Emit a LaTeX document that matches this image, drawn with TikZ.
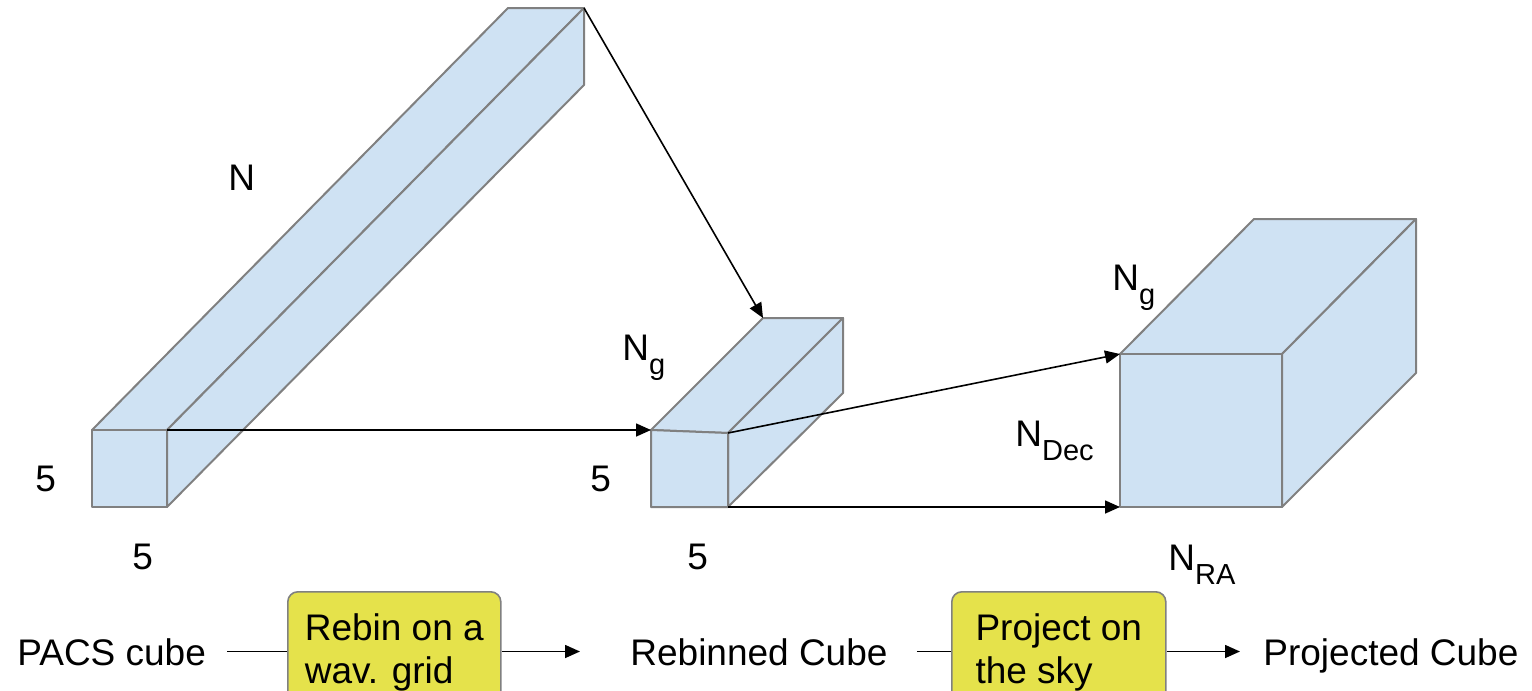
\documentclass[tikz,border=0pt]{standalone}
\usepackage{fontspec}
\setmainfont{Liberation Sans}
\usetikzlibrary{arrows.meta}
\definecolor{cubefill}{RGB}{207,226,243}
\definecolor{edgegray}{RGB}{128,128,128}
\definecolor{boxyellow}{RGB}{229,226,75}
\newcommand{\lowsub}[1]{\raisebox{-7pt}{\fontsize{14.5}{16}\selectfont #1}}
\begin{document}
\begin{tikzpicture}[x=0.5pt,y=-0.5pt,
  face/.style={fill=cubefill,draw=edgegray,line width=1pt,line join=round},
  conn/.style={draw=black,line width=0.8pt,-{Triangle[length=7.5pt,width=6.5pt]}},
  plainline/.style={draw=black,line width=0.8pt},
  lbl/.style={inner sep=0pt,anchor=base west,text height=13.5pt,text depth=0pt,font=\fontsize{18.5}{21.5}\selectfont},
  stage/.style={draw=edgegray,line width=0.8pt,fill=boxyellow,rounded corners=5pt,anchor=north west,align=left,
    inner ysep=11pt,inner xsep=8pt,minimum width=106.5pt,font=\fontsize{18.5}{21.5}\selectfont}
]
\useasboundingbox (0,0) rectangle (1532,691);

% PACS cube (long bar)
\coordinate (A1) at (92,430);  \coordinate (A2) at (167,430);
\coordinate (A3) at (167,507); \coordinate (A4) at (92,507);
\coordinate (B1) at (508,8);   \coordinate (B2) at (584,8);
\coordinate (B3) at (584,85);
\draw[face] (A1) -- (B1) -- (B2) -- (A2) -- cycle;
\draw[face] (A2) -- (B2) -- (B3) -- (A3) -- cycle;
\draw[face] (A1) -- (A2) -- (A3) -- (A4) -- cycle;

% Rebinned cube
\coordinate (C1) at (651,430); \coordinate (C2) at (728,433);
\coordinate (C3) at (728,507); \coordinate (C4) at (651,507);
\coordinate (D1) at (763,318); \coordinate (D2) at (843,318);
\coordinate (D3) at (843,393);
\draw[face] (C1) -- (D1) -- (D2) -- (C2) -- cycle;
\draw[face] (C2) -- (D2) -- (D3) -- (C3) -- cycle;
\draw[face] (C1) -- (C2) -- (C3) -- (C4) -- cycle;

% Projected cube
\coordinate (E1) at (1120,354); \coordinate (E2) at (1282,354);
\coordinate (E3) at (1282,507); \coordinate (E4) at (1120,507);
\coordinate (F1) at (1254,219); \coordinate (F2) at (1416,219);
\coordinate (F3) at (1416,373);
\draw[face] (E1) -- (F1) -- (F2) -- (E2) -- cycle;
\draw[face] (E2) -- (F2) -- (F3) -- (E3) -- cycle;
\draw[face] (E1) -- (E2) -- (E3) -- (E4) -- cycle;

% connectors between cubes
\draw[conn] (B2) -- (D1);
\draw[conn] (A2) -- (C1);
\draw[conn] (C2) -- (E1);
\draw[conn] (C3) -- (E4);

% dimension labels
\node[lbl] (lN)   at (228,190) {N};
\node[lbl] (l5a)  at (35,491)  {5};
\node[lbl] (l5b)  at (132,569) {5};
\node[lbl] (lNg1) at (622,360) {N\lowsub{g}};
\node[lbl] (l5c)  at (590,491) {5};
\node[lbl] (l5d)  at (687,569) {5};
\node[lbl] (lNg2) at (1112,290) {N\lowsub{g}};
\node[lbl] (lNd)  at (1015,446) {N\lowsub{Dec}};
\node[lbl] (lNr)  at (1168,570) {N\lowsub{RA}};

% bottom flow
\node[lbl] (pacs) at (17,665) {PACS cube};
\node[stage] (box1) at (287,591) {Rebin on a\\wav. grid};
\node[lbl] (rebinned) at (630,665) {Rebinned Cube};
\node[stage,minimum width=107pt] (box2) at (951,591) {Project on\\the sky};
\node[lbl] (projected) at (1263,665) {Projected Cube};

\draw[plainline,shorten <=10.5pt] (pacs.east) -- (pacs.east -| box1.west);
\draw[conn,shorten >=25pt] (box1.east |- rebinned.west) -- (rebinned.west);
\draw[plainline,shorten <=14.5pt] (rebinned.east) -- (rebinned.east -| box2.west);
\draw[conn,shorten >=11.5pt] (box2.east |- projected.west) -- (projected.west);
\end{tikzpicture}
\end{document}
